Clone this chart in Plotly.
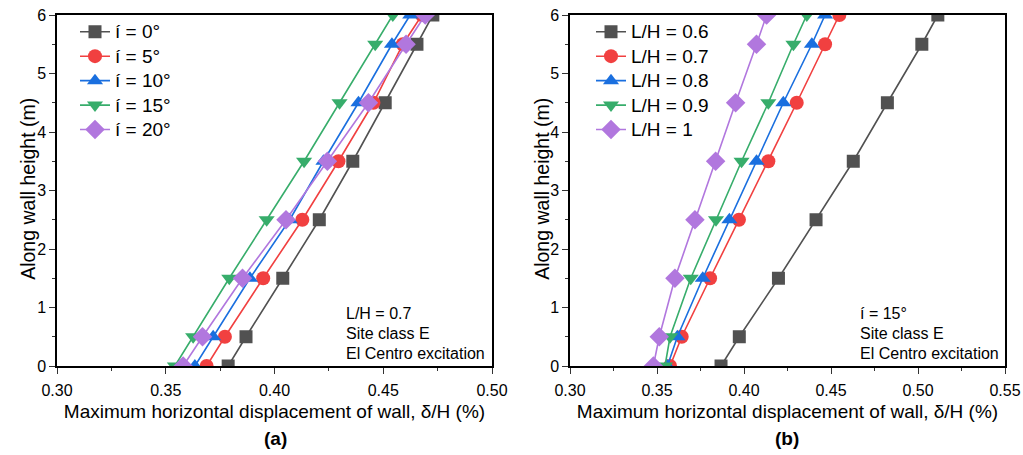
import plotly.graph_objects as go

# Heights along the wall (m)
heights = [0, 0.5, 1.5, 2.5, 3.5, 4.5, 5.5, 6]

# (a) effect of inclination angle i, L/H = 0.7
angle_names = ["í = 0°", "í = 5°", "í = 10°", "í = 15°", "í = 20°"]
disp_i0 = [0.3787, 0.3869, 0.4038, 0.4206, 0.4360, 0.4509, 0.4655, 0.4728]
disp_i5 = [0.3688, 0.3772, 0.3948, 0.4128, 0.4294, 0.4455, 0.4590, 0.4678]
disp_i10 = [0.3634, 0.3718, 0.3887, 0.4070, 0.4225, 0.4386, 0.4540, 0.4624]
disp_i15 = [0.3542, 0.3626, 0.3792, 0.3964, 0.4136, 0.4299, 0.4463, 0.4544]
disp_i20 = [0.3580, 0.3669, 0.3853, 0.4053, 0.4243, 0.4432, 0.4605, 0.4693]

# (b) effect of aspect ratio L/H, i = 15°
ratio_names = ["L/H = 0.6", "L/H = 0.7", "L/H = 0.8", "L/H = 0.9", "L/H = 1"]
disp_lh06 = [0.3868, 0.3973, 0.4198, 0.4414, 0.4628, 0.4824, 0.5022, 0.5114]
disp_lh07 = [0.3575, 0.3642, 0.3805, 0.3971, 0.4140, 0.4303, 0.4466, 0.4548]
disp_lh08 = [0.3560, 0.3617, 0.3763, 0.3916, 0.4072, 0.4226, 0.4390, 0.4466]
disp_lh09 = [0.3546, 0.3575, 0.3694, 0.3839, 0.3986, 0.4140, 0.4284, 0.4361]
disp_lh10 = [0.3479, 0.3513, 0.3603, 0.3718, 0.3837, 0.3952, 0.4072, 0.4130]

colors = ["#515151", "#F14040", "#1A6FDF", "#37AD6B", "#B177DE"]
symbols = ["square", "circle", "triangle-up", "triangle-down", "diamond"]
sizes = [13, 14, 14, 14, 15]

FONT = "Liberation Sans, Arial, sans-serif"

fig = go.Figure()

series_a = [disp_i0, disp_i5, disp_i10, disp_i15, disp_i20]
series_b = [disp_lh06, disp_lh07, disp_lh08, disp_lh09, disp_lh10]


def legend_label(name):
    # larger glyphs than the legend's own row height allows
    return f'<span style="font-size:19px">{name}</span>'


for k, (name, xs) in enumerate(zip(angle_names, series_a)):
    fig.add_trace(go.Scatter(
        x=xs, y=heights, name=legend_label(name), mode="lines+markers",
        line=dict(color=colors[k], width=1.6),
        marker=dict(symbol=symbols[k], size=sizes[k], color=colors[k]),
        xaxis="x", yaxis="y", legend="legend",
    ))

for k, (name, xs) in enumerate(zip(ratio_names, series_b)):
    fig.add_trace(go.Scatter(
        x=xs, y=heights, name=legend_label(name), mode="lines+markers",
        line=dict(color=colors[k], width=1.6),
        marker=dict(symbol=symbols[k], size=sizes[k], color=colors[k]),
        xaxis="x2", yaxis="y2", legend="legend2",
    ))

W, H = 1023, 455
y_dom = [1 - 366 / H, 1 - 15 / H]
xa_dom = [57 / W, 492 / W]
xb_dom = [570 / W, 1005 / W]

x_title = "Maximum horizontal displacement of wall, δ/H (%)"
y_title = "Along wall height (m)"


def x_axis(dom, rng, anchor):
    return dict(
        domain=dom, range=rng, anchor=anchor, automargin=False,
        dtick=0.05, tick0=0.30, tickformat=".2f",
        ticks="outside", ticklen=6, tickwidth=1.2, tickcolor="#333",
        minor=dict(dtick=0.025, ticks="outside", ticklen=3, tickcolor="#333", tickwidth=1.2),
        showline=True, linecolor="black", linewidth=1.5, mirror=True,
        showgrid=False, zeroline=False,
        tickfont=dict(family=FONT, size=16, color="black"),
        ticklabelstandoff=3,
        title=dict(text=x_title, font=dict(family=FONT, size=19, color="black"), standoff=7),
    )


def y_axis(dom, anchor):
    return dict(
        domain=dom, range=[0, 6], anchor=anchor, automargin=False,
        dtick=1, ticks="outside", ticklen=6, tickwidth=1.2, tickcolor="#333",
        minor=dict(dtick=0.5, ticks="outside", ticklen=3, tickcolor="#333", tickwidth=1.2),
        showline=True, linecolor="black", linewidth=1.5, mirror=True,
        showgrid=False, zeroline=False,
        tickfont=dict(family=FONT, size=16, color="black"),
    )


legend_style = dict(
    font=dict(family=FONT, size=16.5, color="black"),
    bgcolor="rgba(0,0,0,0)", borderwidth=0,
    xanchor="left", yanchor="top", tracegroupgap=0, itemwidth=30,
)

fig.update_layout(
    width=W, height=H,
    margin=dict(l=0, r=0, t=0, b=0, autoexpand=False),
    paper_bgcolor="white", plot_bgcolor="white",
    showlegend=True,
    xaxis=x_axis(xa_dom, [0.30, 0.50], "y"),
    yaxis=y_axis(y_dom, "x"),
    xaxis2=x_axis(xb_dom, [0.30, 0.55], "y2"),
    yaxis2=y_axis(y_dom, "x2"),
    legend=dict(x=75 / W, y=1 - 14.5 / H, **legend_style),
    legend2=dict(x=591 / W, y=1 - 14.5 / H, **legend_style),
)

# Vertical axis titles
y_mid = (y_dom[0] + y_dom[1]) / 2 + 0.003
for xpos in [27.7 / W, 541.7 / W]:
    fig.add_annotation(
        x=xpos, y=y_mid, xref="paper", yref="paper",
        xanchor="center", yanchor="middle", textangle=-90, showarrow=False,
        text=y_title, font=dict(family=FONT, size=19.5, color="black"),
    )

# Case descriptions inside each panel, one line each
notes_a = ["L/H = 0.7", "Site class E", "El Centro excitation"]
notes_b = ["í = 15°", "Site class E", "El Centro excitation"]
row_y = [313, 333, 353]
for lines, xpos in [(notes_a, 345 / W), (notes_b, 859 / W)]:
    for txt, ry in zip(lines, row_y):
        fig.add_annotation(
            x=xpos, y=1 - ry / H, xref="paper", yref="paper",
            xanchor="left", yanchor="middle", align="left", showarrow=False,
            text=txt, font=dict(family=FONT, size=16, color="black"),
            borderpad=0,
        )

# Panel labels
for lbl, xpos in [("<b>(a)</b>", 275 / W), ("<b>(b)</b>", 787 / W)]:
    fig.add_annotation(
        x=xpos, y=1 - 438 / H, xref="paper", yref="paper",
        xanchor="center", yanchor="middle", showarrow=False,
        text=lbl, font=dict(family=FONT, size=19, color="black"),
    )

fig.write_html("out.html")
